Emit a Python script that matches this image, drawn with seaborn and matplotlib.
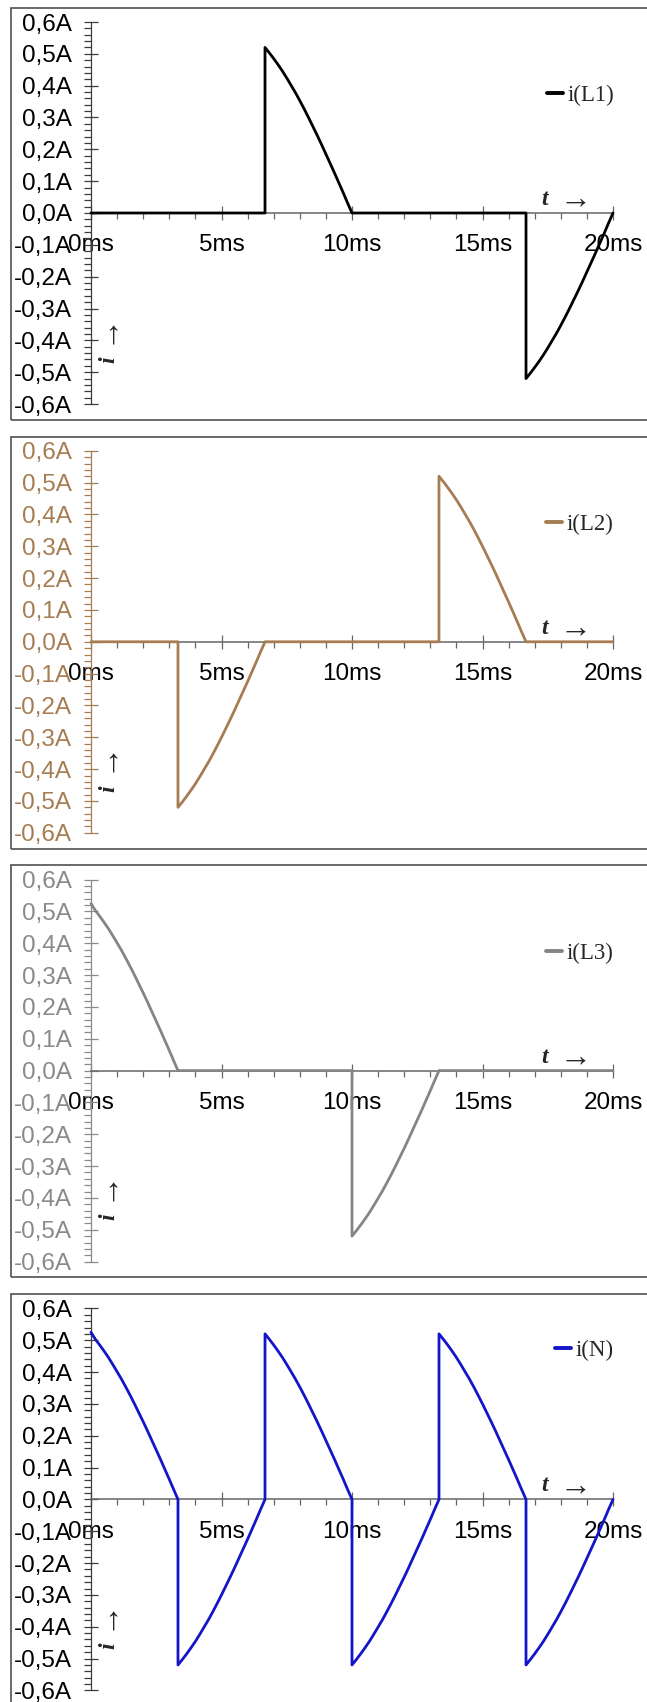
import matplotlib
matplotlib.use("Agg")
import matplotlib.pyplot as plt
import seaborn as sns
from matplotlib.patches import Rectangle
from matplotlib.ticker import MultipleLocator

# ---------------- data ----------------
t_L1 = [0.000, 6.667,
        6.667, 6.833, 7.000, 7.167, 7.333, 7.500, 7.667, 7.833, 8.000, 8.167, 8.333,
        8.500, 8.667, 8.833, 9.000, 9.167, 9.333, 9.500, 9.667, 9.833, 10.000,
        16.667,
        16.667, 16.833, 17.000, 17.167, 17.333, 17.500, 17.667, 17.833, 18.000, 18.167, 18.333,
        18.500, 18.667, 18.833, 19.000, 19.167, 19.333, 19.500, 19.667, 19.833, 20.000]
i_L1 = [0.000, 0.000,
        0.520, 0.503, 0.485, 0.466, 0.446, 0.424, 0.401, 0.378, 0.353, 0.327, 0.300,
        0.272, 0.244, 0.215, 0.185, 0.155, 0.125, 0.094, 0.063, 0.031, 0.000,
        0.000,
        -0.520, -0.503, -0.485, -0.466, -0.446, -0.424, -0.401, -0.378, -0.353, -0.327, -0.300,
        -0.272, -0.244, -0.215, -0.185, -0.155, -0.125, -0.094, -0.063, -0.031, 0.000]

t_L2 = [0.000, 3.333,
        3.333, 3.500, 3.667, 3.833, 4.000, 4.167, 4.333, 4.500, 4.667, 4.833, 5.000,
        5.167, 5.333, 5.500, 5.667, 5.833, 6.000, 6.167, 6.333, 6.500, 6.667,
        13.333,
        13.333, 13.500, 13.667, 13.833, 14.000, 14.167, 14.333, 14.500, 14.667, 14.833, 15.000,
        15.167, 15.333, 15.500, 15.667, 15.833, 16.000, 16.167, 16.333, 16.500, 16.667,
        20.000]
i_L2 = [0.000, 0.000,
        -0.520, -0.503, -0.485, -0.466, -0.446, -0.424, -0.401, -0.378, -0.353, -0.327, -0.300,
        -0.272, -0.244, -0.215, -0.185, -0.155, -0.125, -0.094, -0.063, -0.031, 0.000,
        0.000,
        0.520, 0.503, 0.485, 0.466, 0.446, 0.424, 0.401, 0.378, 0.353, 0.327, 0.300,
        0.272, 0.244, 0.215, 0.185, 0.155, 0.125, 0.094, 0.063, 0.031, 0.000,
        0.000]

t_L3 = [0.000, 0.167, 0.333, 0.500, 0.667, 0.833, 1.000, 1.167, 1.333, 1.500, 1.667,
        1.833, 2.000, 2.167, 2.333, 2.500, 2.667, 2.833, 3.000, 3.167, 3.333,
        10.000,
        10.000, 10.167, 10.333, 10.500, 10.667, 10.833, 11.000, 11.167, 11.333, 11.500, 11.667,
        11.833, 12.000, 12.167, 12.333, 12.500, 12.667, 12.833, 13.000, 13.167, 13.333,
        20.000]
i_L3 = [0.525, 0.503, 0.485, 0.466, 0.446, 0.424, 0.401, 0.378, 0.353, 0.327, 0.300,
        0.272, 0.244, 0.215, 0.185, 0.155, 0.125, 0.094, 0.063, 0.031, 0.000,
        0.000,
        -0.520, -0.503, -0.485, -0.466, -0.446, -0.424, -0.401, -0.378, -0.353, -0.327, -0.300,
        -0.272, -0.244, -0.215, -0.185, -0.155, -0.125, -0.094, -0.063, -0.031, 0.000,
        0.000]

t_N = [0.000, 0.167, 0.333, 0.500, 0.667, 0.833, 1.000, 1.167, 1.333, 1.500, 1.667,
       1.833, 2.000, 2.167, 2.333, 2.500, 2.667, 2.833, 3.000, 3.167, 3.333,
       3.333, 3.500, 3.667, 3.833, 4.000, 4.167, 4.333, 4.500, 4.667, 4.833, 5.000,
       5.167, 5.333, 5.500, 5.667, 5.833, 6.000, 6.167, 6.333, 6.500, 6.667,
       6.667, 6.833, 7.000, 7.167, 7.333, 7.500, 7.667, 7.833, 8.000, 8.167, 8.333,
       8.500, 8.667, 8.833, 9.000, 9.167, 9.333, 9.500, 9.667, 9.833, 10.000,
       10.000, 10.167, 10.333, 10.500, 10.667, 10.833, 11.000, 11.167, 11.333, 11.500, 11.667,
       11.833, 12.000, 12.167, 12.333, 12.500, 12.667, 12.833, 13.000, 13.167, 13.333,
       13.333, 13.500, 13.667, 13.833, 14.000, 14.167, 14.333, 14.500, 14.667, 14.833, 15.000,
       15.167, 15.333, 15.500, 15.667, 15.833, 16.000, 16.167, 16.333, 16.500, 16.667,
       16.667, 16.833, 17.000, 17.167, 17.333, 17.500, 17.667, 17.833, 18.000, 18.167, 18.333,
       18.500, 18.667, 18.833, 19.000, 19.167, 19.333, 19.500, 19.667, 19.833, 20.000]
i_N = [0.525, 0.503, 0.485, 0.466, 0.446, 0.424, 0.401, 0.378, 0.353, 0.327, 0.300,
       0.272, 0.244, 0.215, 0.185, 0.155, 0.125, 0.094, 0.063, 0.031, 0.000,
       -0.520, -0.503, -0.485, -0.466, -0.446, -0.424, -0.401, -0.378, -0.353, -0.327, -0.300,
       -0.272, -0.244, -0.215, -0.185, -0.155, -0.125, -0.094, -0.063, -0.031, 0.000,
       0.520, 0.503, 0.485, 0.466, 0.446, 0.424, 0.401, 0.378, 0.353, 0.327, 0.300,
       0.272, 0.244, 0.215, 0.185, 0.155, 0.125, 0.094, 0.063, 0.031, 0.000,
       -0.520, -0.503, -0.485, -0.466, -0.446, -0.424, -0.401, -0.378, -0.353, -0.327, -0.300,
       -0.272, -0.244, -0.215, -0.185, -0.155, -0.125, -0.094, -0.063, -0.031, 0.000,
       0.520, 0.503, 0.485, 0.466, 0.446, 0.424, 0.401, 0.378, 0.353, 0.327, 0.300,
       0.272, 0.244, 0.215, 0.185, 0.155, 0.125, 0.094, 0.063, 0.031, 0.000,
       -0.520, -0.503, -0.485, -0.466, -0.446, -0.424, -0.401, -0.378, -0.353, -0.327, -0.300,
       -0.272, -0.244, -0.215, -0.185, -0.155, -0.125, -0.094, -0.063, -0.031, 0.000]

series_names = ["i(L1)", "i(L2)", "i(L3)", "i(N)"]

y_ticks = [0.6, 0.5, 0.4, 0.3, 0.2, 0.1, 0.0, -0.1, -0.2, -0.3, -0.4, -0.5, -0.6]
y_tick_labels = ["0,6A", "0,5A", "0,4A", "0,3A", "0,2A", "0,1A", "0,0A",
                 "-0,1A", "-0,2A", "-0,3A", "-0,4A", "-0,5A", "-0,6A"]
x_ticks = [0, 5, 10, 15, 20]
x_tick_labels = ["0ms", "5ms", "10ms", "15ms", "20ms"]

# ---------------- styling ----------------
sns.set_style("white")
plt.rcParams["font.family"] = ["Liberation Sans", "DejaVu Sans"]

W, H = 647, 1702
fig = plt.figure(figsize=(W / 100, H / 100), dpi=100)

series = [(t_L1, i_L1), (t_L2, i_L2), (t_L3, i_L3), (t_N, i_N)]
line_colors = ["#000000", "#a67c52", "#858585", "#1414c8"]
axis_colors = ["#3c3c3c", "#a67c52", "#8a8a8a", "#3c3c3c"]
label_colors = ["#000000", "#a67c52", "#8a8a8a", "#000000"]
# legend anchor (handle left x in px, y above zero in px)
legend_pos = [(547, 118), (546, 117), (546, 117), (555, 149)]

serif = ["Liberation Serif", "DejaVu Serif"]
X0, XW = 91, 522          # pixel x of 0 ms and width for 20 ms
HALF = 191                # pixels for 0.6 A

for k in range(4):
    zero = 213 + 428.8 * k
    top_box = 8 + 428.7 * k
    fig.add_artist(Rectangle((11 / W, 1 - (top_box + 412) / H), 700 / W, 412 / H,
                             transform=fig.transFigure, fill=False,
                             edgecolor="#505050", linewidth=1.2, zorder=0))
    ax = fig.add_axes([X0 / W, 1 - (zero + HALF) / H, XW / W, 2 * HALF / H])
    ax.patch.set_alpha(0)

    t, i = series[k]
    sns.lineplot(x=t, y=i, ax=ax, color=line_colors[k], linewidth=2.0,
                 estimator=None, sort=False, label=series_names[k],
                 clip_on=False, zorder=4)

    ax.set_xlim(0, 20)
    ax.set_ylim(-0.6, 0.6)
    ax.set_xlabel("")
    ax.set_ylabel("")
    for s in ("top", "right"):
        ax.spines[s].set_visible(False)
    ax.spines["bottom"].set_position(("data", 0))
    ax.spines["bottom"].set_color("#666666")
    ax.spines["bottom"].set_linewidth(1.1)
    ax.spines["left"].set_color(axis_colors[k])
    ax.spines["left"].set_linewidth(0.9)

    ax.set_yticks(y_ticks)
    ax.set_yticklabels(y_tick_labels)
    ax.set_xticks(x_ticks)
    ax.set_xticklabels(x_tick_labels)
    ax.yaxis.set_minor_locator(MultipleLocator(0.02))
    ax.xaxis.set_minor_locator(MultipleLocator(1))

    ax.tick_params(which="both", left=True, bottom=True, top=False, right=False)
    ax.tick_params(axis="y", which="major", direction="inout", length=10, width=0.9,
                   color=axis_colors[k], labelcolor=label_colors[k], labelsize=17.5, pad=8.6)
    ax.tick_params(axis="y", which="minor", direction="out", length=5, width=0.9,
                   color=axis_colors[k])
    ax.tick_params(axis="x", which="major", direction="inout", length=10.5, width=0.9,
                   color="#666666", labelcolor="black", labelsize=17.5, pad=10)
    ax.tick_params(axis="x", which="minor", direction="out", length=4, width=0.9,
                   color="#666666")

    lx, ly = legend_pos[k]
    leg = ax.legend(loc="center left",
                    bbox_to_anchor=((lx - X0) / XW, 0.5 + ly / (2 * HALF)),
                    frameon=False, borderpad=0, borderaxespad=0,
                    handlelength=0.7, handletextpad=0.2,
                    prop={"family": serif, "size": 16.5})
    for ln in leg.get_lines():
        ln.set_linewidth(2.8)

    # axis direction hints
    ax.text(17.25, 0.025, "t", family=serif, style="italic", weight="bold",
            fontsize=17, ha="left", va="baseline")
    ax.text(17.95, 0.04, "\u2192", family=serif, fontsize=23, ha="left", va="center")
    ax.text(0.70, -0.46, "i", family=serif, style="italic", weight="bold",
            fontsize=17, rotation=90, ha="center", va="center")
    ax.text(0.55, -0.36, "\u2192", family=serif, fontsize=23, rotation=90,
            ha="center", va="center")

fig.savefig("out.png", dpi=100)
